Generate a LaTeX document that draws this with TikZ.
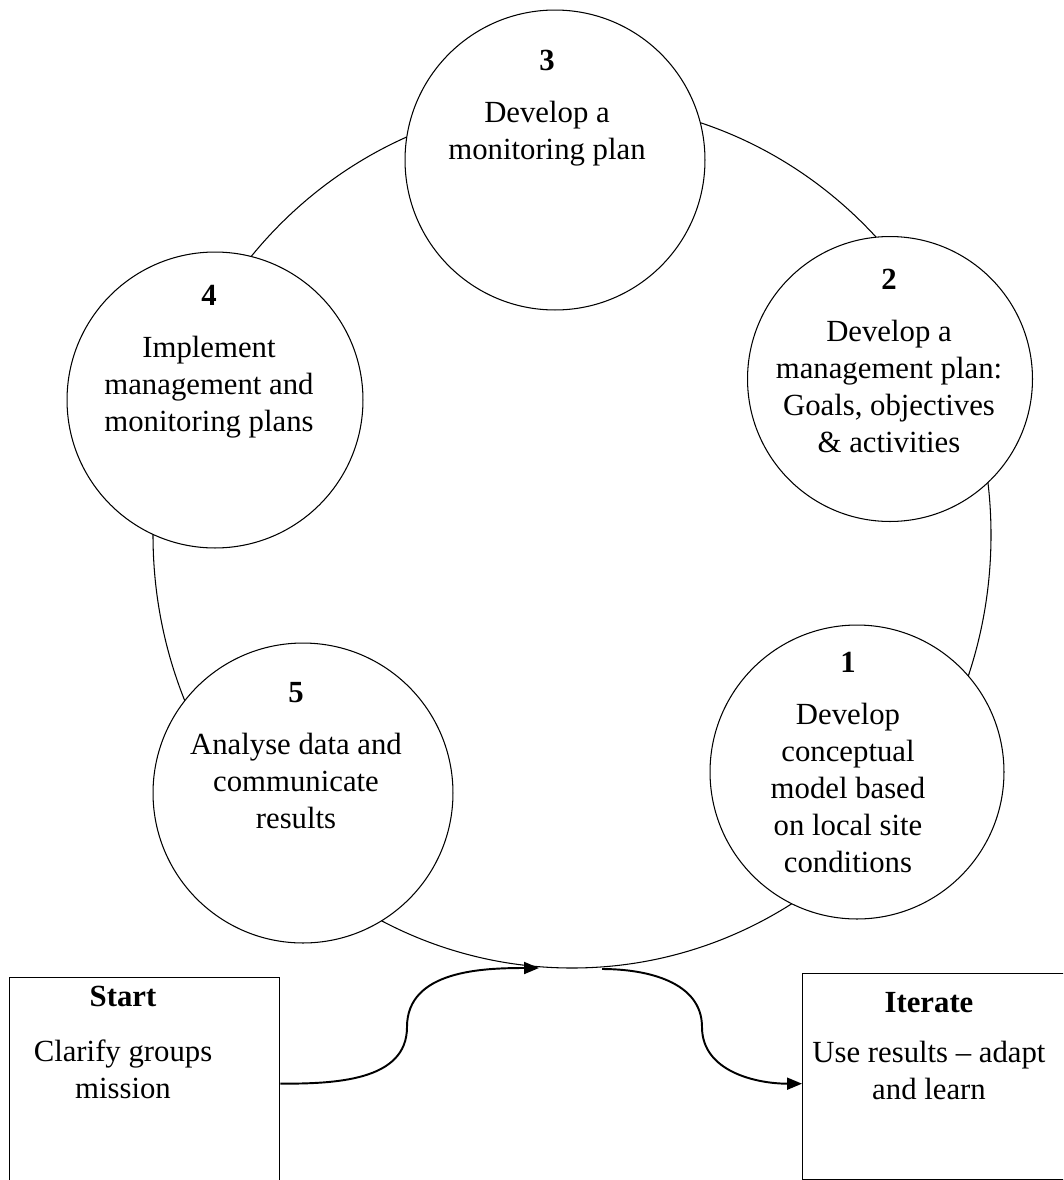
\documentclass[tikz,border=0pt]{standalone}
\usepackage{fontspec}
\setmainfont{Liberation Serif}
\usetikzlibrary{arrows.meta,positioning}
\tikzset{
cyclestage/.style={draw, circle, fill=white, line width=0.6pt, inner sep=0pt},
cycletext/.style={align=center, anchor=north, inner sep=0pt},
cyclebox/.style={draw, line width=0.8pt, fill=white, inner sep=0pt, anchor=north west},
cyclearrow/.style={-{Triangle[length=0.3cm,width=0.24cm]}, line width=1.1pt}
}

\begin{document}
\begin{tikzpicture}[x=0.02cm, y=-0.02cm, font=\fontsize{17.5pt}{21pt}\selectfont]
  \useasboundingbox (0,0) rectangle (1063,1180);
  \clip (0,0) rectangle (1063,1180);
  % the cycle
  \draw[line width=0.6pt] (572,535) ellipse [x radius=419, y radius=433];
  \node[cyclestage, minimum size=6cm] (c3) at (555,160) {};
  \node[cyclestage, minimum size=5.7cm] (c2) at (890,379) {};
  \node[cyclestage, minimum size=5.92cm] (c4) at (215,400) {};
  \node[cyclestage, minimum size=6cm] (c5) at (303,793) {};
  \node[cyclestage, minimum size=5.88cm] (c1) at (857,772) {};
  \node[cycletext] (t3) at (547,50) {\textbf{3}\\[0.3cm]Develop a\\monitoring plan};
  \node[cycletext] (t2) at (889,269) {\textbf{2}\\[0.3cm]Develop a\\management plan:\\Goals, objectives\\\& activities};
  \node[cycletext] (t4) at (209,285) {\textbf{4}\\[0.3cm]Implement\\management and\\monitoring plans};
  \node[cycletext] (t5) at (296,682) {\textbf{5}\\[0.3cm]Analyse data and\\communicate\\results};
  \node[cycletext] (t1) at (848,652) {\textbf{1}\\[0.3cm]Develop\\conceptual\\model based\\on local site\\conditions};
  % start and iterate
  \node[cyclebox, minimum width=5.4cm, minimum height=4.24cm] (start) at (9,977) {};
  \node[cyclebox, minimum width=6cm, minimum height=4.12cm] (iter) at (802,973) {};
  \node[cycletext] (starttext) at (123,986) {\textbf{Start}\\[0.36cm]Clarify groups\\mission};
  \node[cycletext] (itertext) at (929,992) {\textbf{Iterate}\\[0.26cm]Use results – adapt\\and learn};
  \coordinate (join) at (539,968);
  \coordinate (leave) at (602,969);
  \coordinate (startbend) at (407,1027);
  \coordinate (iterbend) at (702,1027);
  \draw[cyclearrow] (start.east) to[out=0, in=-90] (startbend) to[out=90, in=180] (join);
  \draw[cyclearrow] (leave) to[out=0, in=90] (iterbend) to[out=-90, in=180] ([yshift=-0.14cm]iter.west);
\end{tikzpicture}
\end{document}
